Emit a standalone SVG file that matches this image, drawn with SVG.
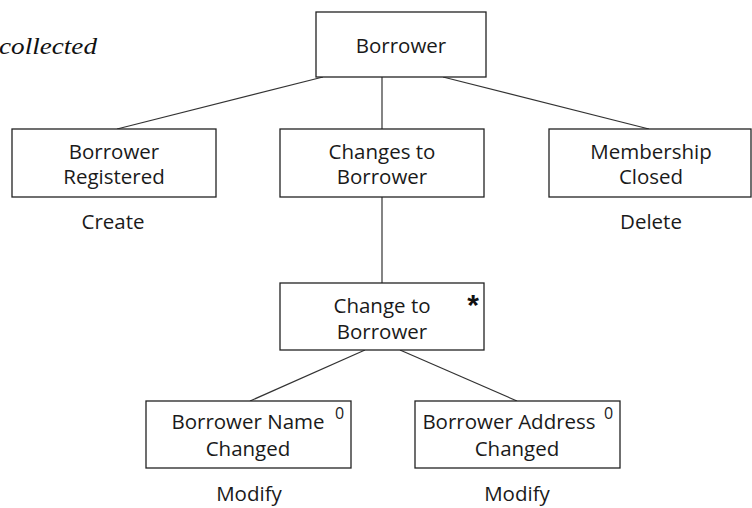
<svg xmlns="http://www.w3.org/2000/svg" width="752" height="508" viewBox="0 0 752 508">
<style>
.box{fill:#fff;stroke:#222;stroke-width:1.3}
.t{font-family:"Open Sans","Noto Sans",sans-serif;font-size:20.5px;fill:#1a1a1a;text-anchor:middle}
.sup{font-family:"Open Sans","Noto Sans",sans-serif;font-size:16px;fill:#1a1a1a}
.ln{stroke:#333;stroke-width:1.2;fill:none}
</style>
<rect width="752" height="508" fill="#fff"/>
<text x="-1" y="54" font-family="Liberation Serif,serif" font-style="italic" font-size="24" fill="#111" textLength="98" lengthAdjust="spacingAndGlyphs">collected</text>
<g id="connectors">
<line class="ln" x1="323" y1="77" x2="117" y2="129"/>
<line class="ln" x1="382" y1="77" x2="382" y2="129"/>
<line class="ln" x1="443" y1="77" x2="649" y2="129"/>
<line class="ln" x1="382" y1="197" x2="382" y2="283"/>
<line class="ln" x1="365" y1="350" x2="250" y2="401"/>
<line class="ln" x1="400" y1="350" x2="517" y2="401"/>
</g>
<g id="borrower">
<rect class="box" x="316" y="12" width="170" height="65"/>
<text class="t" x="401" y="53">Borrower</text>
</g>
<g id="borrower-registered">
<rect class="box" x="12" y="129" width="204" height="68"/>
<text class="t" x="114" y="159">Borrower</text>
<text class="t" x="114" y="184">Registered</text>
<text class="t" x="113" y="229">Create</text>
</g>
<g id="changes-to-borrower">
<rect class="box" x="280" y="129" width="204" height="68"/>
<text class="t" x="382" y="159">Changes to</text>
<text class="t" x="382" y="184">Borrower</text>
</g>
<g id="membership-closed">
<rect class="box" x="549" y="129" width="202" height="68"/>
<text class="t" x="651" y="159">Membership</text>
<text class="t" x="651" y="184">Closed</text>
<text class="t" x="651" y="229">Delete</text>
</g>
<g id="change-to-borrower">
<rect class="box" x="280" y="283" width="204" height="67"/>
<text class="t" x="382" y="313">Change to</text>
<text class="t" x="382" y="339">Borrower</text>
<text x="473" y="315" font-family="Liberation Sans,sans-serif" font-size="30" font-weight="bold" text-anchor="middle" fill="#111">*</text>
</g>
<g id="borrower-name-changed">
<rect class="box" x="146" y="401" width="205" height="67"/>
<text class="t" x="248" y="429">Borrower Name</text>
<text class="t" x="248" y="456">Changed</text>
<text class="sup" x="335" y="419">0</text>
<text class="t" x="249" y="501">Modify</text>
</g>
<g id="borrower-address-changed">
<rect class="box" x="415" y="401" width="205" height="67"/>
<text class="t" x="509" y="429">Borrower Address</text>
<text class="t" x="517" y="456">Changed</text>
<text class="sup" x="604" y="419">0</text>
<text class="t" x="517" y="501">Modify</text>
</g>
</svg>
